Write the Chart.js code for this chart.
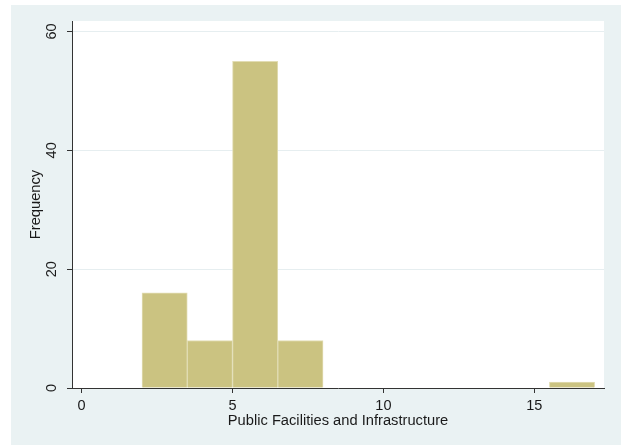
<!DOCTYPE html>
<html>
<head>
<meta charset="utf-8">
<title>Public Facilities and Infrastructure</title>
<script src="https://cdn.jsdelivr.net/npm/chart.js@4"></script>
<style>
  html, body { margin: 0; padding: 0; background: #ffffff; }
  #wrap { width: 621px; height: 445px; }
</style>
</head>
<body>
<div id="wrap"><canvas id="hist" width="621" height="445"></canvas></div>
<script>
// histogram bins (lower edge) and frequency per bin
const binWidth = 1.5;
const binLows = [2, 3.5, 5, 6.5, 8, 9.5, 11, 12.5, 14, 15.5];
const counts = [16, 8, 55, 8, 0, 0, 0, 0, 0, 1];

// axis ticks
const xTicks = [0, 5, 10, 15];
const yTicks = [0, 20, 40, 60];

const xTitle = 'Public Facilities and Infrastructure';
const yTitle = 'Frequency';

const FONT = "Arial, 'Liberation Sans', sans-serif";
const INK = '#1a1a1a';
const AXIS = '#333333';
const REGION = '#eaf2f3';

// graph region + plot region fills
const backdrop = {
    id: 'backdrop',
    beforeDraw(chart) {
        const { ctx, chartArea: a, width, height } = chart;
        ctx.save();
        ctx.fillStyle = '#ffffff';
        ctx.fillRect(0, 0, width, height);
        ctx.fillStyle = REGION;
        ctx.fillRect(11, 5, width - 11, height - 5);
        ctx.fillStyle = '#ffffff';
        ctx.fillRect(a.left, a.top, a.right - a.left, a.bottom - a.top);
        ctx.restore();
    }
};

const points = binLows.map((lo, i) => ({ x: lo + binWidth / 2, y: counts[i] }));

new Chart(document.getElementById('hist').getContext('2d'), {
    type: 'bar',
    data: {
        datasets: [{
            data: points,
            backgroundColor: '#cbc381',
            borderColor: '#e2ddb4',
            borderWidth: 1,
            barPercentage: 1,
            categoryPercentage: 1
        }]
    },
    options: {
        responsive: false,
        animation: false,
        events: [],
        layout: { padding: { top: 21, right: 17, left: 0, bottom: 0 } },
        plugins: {
            legend: { display: false },
            tooltip: { enabled: false }
        },
        scales: {
            x: {
                type: 'linear',
                min: -0.32,
                max: 17.31,
                offset: false,
                afterBuildTicks: s => { s.ticks = xTicks.map(v => ({ value: v })); },
                afterFit: s => { s.height = 57; },
                grid: {
                    offset: false,
                    drawOnChartArea: false,
                    drawTicks: true,
                    tickLength: 5,
                    tickColor: AXIS
                },
                border: { display: true, color: AXIS, width: 1 },
                ticks: {
                    color: INK,
                    padding: 4,
                    maxRotation: 0,
                    font: { family: FONT, size: 14.5 }
                },
                title: {
                    display: true,
                    text: xTitle,
                    color: INK,
                    padding: { top: 0, bottom: 15 },
                    font: { family: FONT, size: 14.7 }
                }
            },
            y: {
                type: 'linear',
                min: 0,
                max: 61.77,
                afterBuildTicks: s => { s.ticks = yTicks.map(v => ({ value: v })); },
                afterFit: s => { s.width = 72; },
                grid: {
                    color: c => (c.tick && c.tick.value === 0 ? 'rgba(0,0,0,0)' : '#e6eef0'),
                    lineWidth: 1,
                    drawTicks: true,
                    tickLength: 5,
                    tickColor: AXIS
                },
                border: { display: true, color: AXIS, width: 1 },
                ticks: {
                    color: INK,
                    padding: 7,
                    minRotation: 90,
                    maxRotation: 90,
                    crossAlign: 'center',
                    font: { family: FONT, size: 14.5 }
                },
                title: {
                    display: true,
                    text: yTitle,
                    color: INK,
                    padding: { top: 27, bottom: 0 },
                    font: { family: FONT, size: 14.7 }
                }
            }
        }
    },
    plugins: [backdrop]
});
</script>
</body>
</html>
